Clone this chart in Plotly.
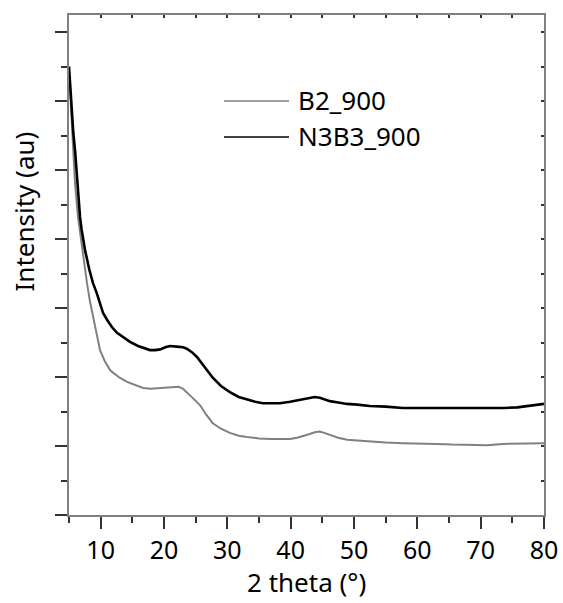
import plotly.graph_objects as go

# 2 theta (deg) and intensity (a.u., arbitrary scale where one major y tick = 1)
b2_x = [5.0, 5.47, 5.95, 6.42, 6.74, 7.3, 7.84, 8.3, 8.79, 9.3, 9.9, 10.6, 11.47, 12.0, 13.0, 14.16,
        15.2, 16.7, 17.8, 19.4, 20.5, 21.4, 22.3, 23.0, 23.6, 24.6, 25.7, 26.7, 27.7, 29.0, 30.4, 31.8,
        33.1, 35.0, 37.0, 38.3, 39.9, 41.0, 41.9, 42.9, 43.8, 44.6, 45.3, 46.2, 47.5, 48.9, 50.5,
        52.5, 55.0, 57.7, 60.5, 63.1, 65.5, 68.3, 71.0, 73.5, 76.0, 78.9, 80.0]
b2_y = [6.45, 5.54, 4.81, 4.32, 4.09, 3.70, 3.36, 3.10, 2.87, 2.62, 2.39, 2.24, 2.10, 2.06, 1.99, 1.93,
        1.89, 1.84, 1.83, 1.84, 1.85, 1.86, 1.86, 1.83, 1.78, 1.69, 1.59, 1.45, 1.33, 1.25, 1.19, 1.15,
        1.13, 1.11, 1.10, 1.10, 1.10, 1.12, 1.14, 1.17, 1.20, 1.21, 1.19, 1.16, 1.12, 1.09, 1.08,
        1.06, 1.05, 1.04, 1.04, 1.03, 1.02, 1.01, 1.01, 1.03, 1.03, 1.04, 1.04]

n3_x = [5.0, 5.3, 5.68, 5.95, 6.3, 6.74, 7.0, 7.53, 8.2, 8.79, 9.37, 10.37, 11.0, 11.8, 12.58, 13.6,
        14.63, 15.9, 17.0, 17.8, 18.6, 19.4, 20.2, 20.95, 22.0, 23.0, 23.6, 24.4, 25.2, 26.4, 27.7,
        29.0, 30.4, 31.8, 33.1, 34.4, 35.6, 37.0, 38.3, 39.9, 41.0, 41.9, 42.9, 43.8, 44.6, 45.4,
        46.2, 47.5, 48.9, 50.5, 52.5, 55.0, 57.7, 60.5, 63.1, 65.5, 68.3, 71.0, 73.5, 75.8, 77.8, 80.0]
n3_y = [6.50, 6.05, 5.54, 5.29, 4.80, 4.32, 4.13, 3.84, 3.56, 3.36, 3.22, 2.93, 2.83, 2.72, 2.64, 2.57,
        2.51, 2.45, 2.41, 2.39, 2.39, 2.40, 2.43, 2.45, 2.44, 2.43, 2.41, 2.36, 2.29, 2.14, 1.99,
        1.87, 1.78, 1.71, 1.67, 1.64, 1.62, 1.62, 1.62, 1.64, 1.66, 1.68, 1.70, 1.71, 1.70, 1.67,
        1.65, 1.63, 1.61, 1.60, 1.58, 1.57, 1.55, 1.55, 1.55, 1.55, 1.54, 1.54, 1.55, 1.56, 1.58, 1.61]

series_names = ["B2_900", "N3B3_900"]
series_colors = ["#808080", "#000000"]

x_tick_vals = [10, 20, 30, 40, 50, 60, 70, 80]
x_tick_text = ["10", "20", "30", "40", "50", "60", "70", "80"]

X_RANGE = [5, 80]
Y_RANGE = [0, 500 / 69]

FONT = "Noto Sans, DejaVu Sans, sans-serif"
AX_LINE = "#808080"
TICK_C = "#333333"

fig = go.Figure()
fig.add_trace(go.Scatter(x=b2_x, y=b2_y, mode="lines", name=series_names[0],
                         line=dict(color=series_colors[0], width=2), showlegend=False))
fig.add_trace(go.Scatter(x=n3_x, y=n3_y, mode="lines", name=series_names[1],
                         line=dict(color=series_colors[1], width=2.6), showlegend=False))

fig.update_layout(
    template="none",
    width=563, height=603,
    margin=dict(l=69, r=19, t=15, b=88, autoexpand=False),
    paper_bgcolor="white", plot_bgcolor="white",
    font=dict(family=FONT, size=26, color="#000000"),
    xaxis=dict(range=X_RANGE, tickvals=x_tick_vals, ticktext=x_tick_text, automargin=False,
               ticks="outside", ticklen=12, tickwidth=1.5, tickcolor=TICK_C,
               minor=dict(dtick=5, tick0=0, ticks="outside", ticklen=6, tickwidth=1.5, tickcolor=TICK_C),
               showline=True, linecolor=AX_LINE, linewidth=1.5, mirror=True,
               showgrid=False, zeroline=False, tickfont=dict(size=25)),
    yaxis=dict(range=Y_RANGE, dtick=1, tick0=0, automargin=False,
               ticks="outside", ticklen=12, tickwidth=1.5, tickcolor=TICK_C,
               minor=dict(dtick=0.5, tick0=0, ticks="outside", ticklen=6, tickwidth=1.5, tickcolor=TICK_C),
               showticklabels=False,
               showline=True, linecolor=AX_LINE, linewidth=1.5, mirror=True,
               showgrid=False, zeroline=False),
    xaxis2=dict(range=X_RANGE, overlaying="x", anchor="y", side="top", dtick=5, tick0=0,
                automargin=False,
                ticks="inside", ticklen=3, tickwidth=1.5, tickcolor=TICK_C,
                showticklabels=False, showgrid=False, zeroline=False, showline=False),
    yaxis2=dict(range=Y_RANGE, overlaying="y", anchor="x", side="right", dtick=0.5, tick0=0,
                automargin=False,
                ticks="inside", ticklen=3, tickwidth=1.5, tickcolor=TICK_C,
                showticklabels=False, showgrid=False, zeroline=False, showline=False),
    showlegend=False,
)

# invisible trace so the mirror-tick axes are drawn
fig.add_trace(go.Scatter(x=[X_RANGE[0]], y=[Y_RANGE[0]], xaxis="x2", yaxis="y2", mode="markers",
                         marker=dict(opacity=0), hoverinfo="skip", showlegend=False))

# axis titles
fig.add_annotation(text="Intensity (au)", xref="paper", yref="paper", x=-0.0937, y=0.608,
                   textangle=-90, showarrow=False, xanchor="center", yanchor="middle",
                   font=dict(size=26))
fig.add_annotation(text="2 theta (°)", xref="paper", yref="paper", x=0.5, y=-0.174,
                   showarrow=False, xanchor="center", yanchor="bottom", font=dict(size=26))

# legend
leg_y = [0.828, 0.756]
for name, col, ly in zip(series_names, series_colors, leg_y):
    fig.add_shape(type="line", xref="paper", yref="paper", x0=0.3263, x1=0.4632, y0=ly, y1=ly,
                  line=dict(color=col, width=1.5))
    fig.add_annotation(text=name, xref="paper", yref="paper", x=0.478, y=ly + 0.002, showarrow=False,
                       xanchor="left", yanchor="middle", font=dict(size=26))

fig.write_html("out.html", config={"displayModeBar": False},
               post_script="document.body.style.margin='0';document.body.style.overflow='hidden';")
